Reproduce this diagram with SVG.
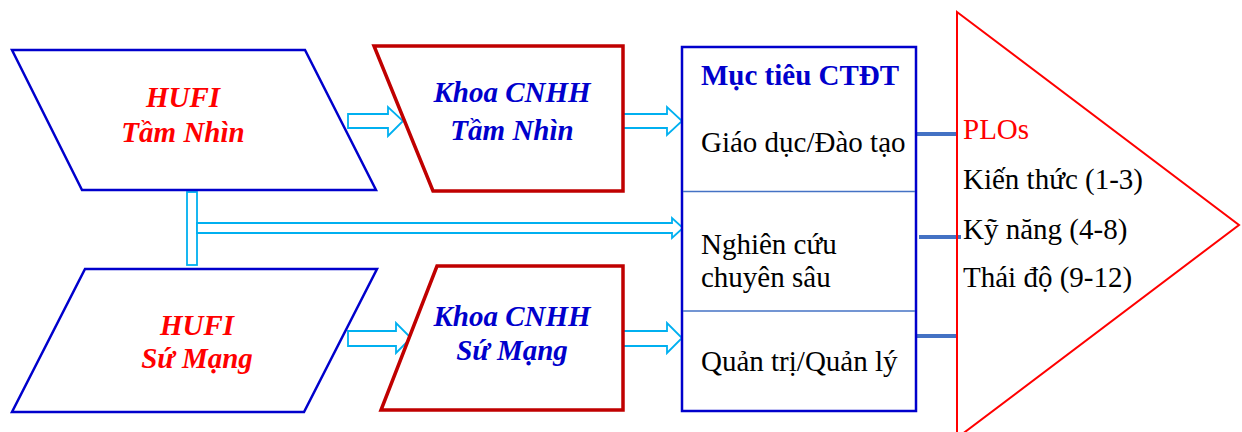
<svg xmlns="http://www.w3.org/2000/svg" width="1242" height="432" viewBox="0 0 1242 432">
<style>
.para{fill:#fff;stroke:#0000CC;stroke-width:2.5;stroke-linejoin:miter}
.rbox{fill:#fff;stroke:#C00000;stroke-width:3.5;stroke-linejoin:miter}
.harrow{fill:#fff;stroke:#00B0F0;stroke-width:1.8;stroke-linejoin:miter}
.link{stroke:#4472C4;stroke-width:4;fill:none}
.div{stroke:#4472C4;stroke-width:1.6;fill:none}
text{font-family:'Liberation Serif','Times New Roman','DejaVu Serif',serif}
.hufi{font-weight:bold;font-style:italic;font-size:29px;fill:#FF0000;text-anchor:middle}
.khoa{font-weight:bold;font-style:italic;font-size:29px;fill:#0000CC;text-anchor:middle}
.body{font-size:29px;fill:#000}
.red{fill:#FF0000}
.title{font-weight:bold;font-size:29px;fill:#0000CC}
</style>
<rect width="1242" height="432" fill="#fff"/>
<g id="connectors">
  <rect class="harrow" x="187" y="192" width="10" height="73"/>
  <polygon class="harrow" points="197,223 672,223 672,218 683,228 672,238 672,233 197,233"/>
  <polygon class="harrow" points="348,114 388,114 388,107 403,121 388,136 388,128 348,128"/>
  <polygon class="harrow" points="348,331 396,331 396,323 411,338 396,353 396,346 348,346"/>
  <polygon class="harrow" points="623,114 667,114 667,107 682,121 667,135 667,128 623,128"/>
  <polygon class="harrow" points="623,331 667,331 667,323 682,338 667,353 667,346 623,346"/>
  <line class="link" x1="916" y1="134" x2="957" y2="134"/>
  <line class="link" x1="919" y1="237" x2="961" y2="237"/>
  <line class="link" x1="916" y1="336" x2="957" y2="336"/>
</g>
<g id="hufi-tam-nhin">
  <polygon class="para" points="12,50 305,50 376,190 82,190"/>
  <text class="hufi" x="183" y="107">HUFI</text>
  <text class="hufi" x="183" y="142">Tầm Nhìn</text>
</g>
<g id="hufi-su-mang">
  <polygon class="para" points="85,269 377,269 304,412 12,412"/>
  <text class="hufi" x="197" y="335">HUFI</text>
  <text class="hufi" x="197" y="368">Sứ Mạng</text>
</g>
<g id="khoa-tam-nhin">
  <polygon class="rbox" points="374,46 623,46 623,191 433,191"/>
  <text class="khoa" x="512" y="102">Khoa CNHH</text>
  <text class="khoa" x="512" y="140">Tầm Nhìn</text>
</g>
<g id="khoa-su-mang">
  <polygon class="rbox" points="437,266 623,266 623,410 381,410"/>
  <text class="khoa" x="512" y="326">Khoa CNHH</text>
  <text class="khoa" x="512" y="360">Sứ Mạng</text>
</g>
<g id="muc-tieu">
  <rect x="682" y="47" width="234" height="364" fill="#fff" stroke="#0000CC" stroke-width="2.5"/>
  <line class="div" x1="683" y1="191.5" x2="915" y2="191.5"/>
  <line class="div" x1="683" y1="311" x2="915" y2="311"/>
  <text class="title" x="701" y="85">Mục tiêu CTĐT</text>
  <text class="body" x="701" y="152">Giáo dục/Đào tạo</text>
  <text class="body" x="701" y="254">Nghiên cứu</text>
  <text class="body" x="701" y="287">chuyên sâu</text>
  <text class="body" x="701" y="371">Quản trị/Quản lý</text>
</g>
<g id="plos">
  <polygon points="957,12 1239,225 957,438" fill="none" stroke="#FF0000" stroke-width="2"/>
  <text class="body red" x="963" y="139">PLOs</text>
  <text class="body" x="963" y="189">Kiến thức (1-3)</text>
  <text class="body" x="963" y="239">Kỹ năng (4-8)</text>
  <text class="body" x="963" y="287">Thái độ (9-12)</text>
</g>
</svg>
